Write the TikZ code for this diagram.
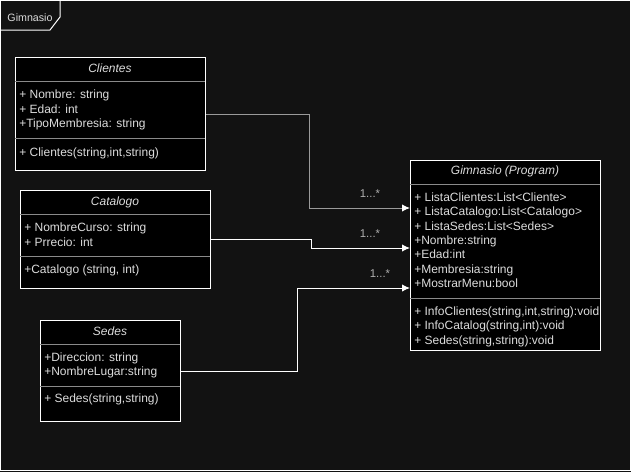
\documentclass[tikz,border=0pt]{standalone}
\usepackage{fontspec}
\setmainfont{Liberation Sans}
\usetikzlibrary{arrows.meta,calc}
\definecolor{bg}{HTML}{121212}
\definecolor{txt}{HTML}{DCDCDC}
\definecolor{sepc}{HTML}{8A8A8A}
\definecolor{conn}{HTML}{9A9A9A}
\definecolor{lbl}{HTML}{B0B0B0}
\tikzset{
  umlbox/.style={draw=white, fill=black, line width=0.75pt, inner sep=0pt, anchor=north west},
  sepline/.style={draw=sepc, line width=0.75pt},
  ttl/.style={font=\fontsize{9}{10}\selectfont\itshape, text=txt, inner sep=0pt, text height=6.5pt, text depth=1.9pt},
  attr/.style={font=\fontsize{9}{10}\selectfont, text=txt, inner sep=0pt, anchor=west, text height=6.5pt, text depth=1.9pt},
  mult/.style={font=\fontsize{8.5}{10}\selectfont, text=lbl, inner sep=0pt},
  assoc/.style={line width=0.75pt, -{Latex[length=6pt,width=5.5pt,fill=white,color=white]}},
}
\begin{document}
\begin{tikzpicture}[x=0.75pt,y=-0.75pt]
\fill[bg] (0,0) rectangle (631,472);
\useasboundingbox (0,0) rectangle (631,472);
% frame
\draw[white, line width=0.75pt] (0.5,0.5) rectangle (630.5,470.5);
\draw[white, line width=0.75pt] (0.5,30) -- (50,30) -- (60,17) -- (60,0.5);
\node[font=\fontsize{8}{9}\selectfont, text=txt, inner sep=0pt] (frm) at (30,17.5) {Gimnasio};

% Clientes
\node[umlbox, minimum width=142.5pt, minimum height=84.75pt] (cli) at (15,57) {};
\draw[sepline] (15,81) -- (205,81);
\draw[sepline] (15,138) -- (205,138);
\node[ttl] (cli-t) at (110,69) {Clientes};
\foreach \t [count=\i] in {{+ Nombre: string},{+ Edad: int},{+TipoMembresia: string}}
  \node[attr] (cli-a\i) at (19,95.5+14.5*\i-14.5) {\t};
\node[attr] (cli-m1) at (19,153) {+ Clientes(string,int,string)};

% Catalogo
\node[umlbox, minimum width=142.5pt, minimum height=73.5pt] (cat) at (20,190) {};
\draw[sepline] (20,214) -- (210,214);
\draw[sepline] (20,256) -- (210,256);
\node[ttl] (cat-t) at (115,202) {Catalogo};
\foreach \t [count=\i] in {{+ NombreCurso: string},{+ Prrecio: int}}
  \node[attr] (cat-a\i) at (24,228.5+14.5*\i-14.5) {\t};
\node[attr] (cat-m1) at (24,270.5) {+Catalogo (string, int)};

% Sedes
\node[umlbox, minimum width=105pt, minimum height=75.75pt] (sed) at (40,320) {};
\draw[sepline] (40,344) -- (180,344);
\draw[sepline] (40,386) -- (180,386);
\node[ttl] (sed-t) at (110,332) {Sedes};
\foreach \t [count=\i] in {{+Direccion: string},{+NombreLugar:string}}
  \node[attr] (sed-a\i) at (44,358+14.5*\i-14.5) {\t};
\node[attr] (sed-m1) at (44,399.5) {+ Sedes(string,string)};

% Gimnasio
\node[umlbox, minimum width=142.5pt, minimum height=142.5pt] (gim) at (410,160) {};
\draw[sepline] (410,184) -- (600,184);
\draw[sepline] (410,298) -- (600,298);
\node[ttl] (gim-t) at (505,171) {Gimnasio (Program)};
\foreach \t [count=\i] in {{+ ListaClientes:List<Cliente>},{+ ListaCatalogo:List<Catalogo>},{+ ListaSedes:List<Sedes>},{+Nombre:string},{+Edad:int},{+Membresia:string},{+MostrarMenu:bool}}
  \node[attr] (gim-a\i) at (414,198.5+14.33*\i-14.33) {\t};
\foreach \t [count=\i] in {{+ InfoClientes(string,int,string):void},{+ InfoCatalog(string,int):void},{+ Sedes(string,string):void}}
  \node[attr] (gim-m\i) at (414,312+14.5*\i-14.5) {\t};

% connector end points on Gimnasio
\coordinate (g1) at ($(gim.north west)+(0,48)$);
\coordinate (g2) at ($(gim.north west)+(0,88)$);
\coordinate (g3) at ($(gim.north west)+(0,128)$);

\draw[assoc, draw=conn] (cli.east) -- ++(103,0) |- (g1);
\draw[assoc, draw=white] (cat.east) -- ++(100,0) |- (g2);
\draw[assoc, draw=white] (sed.east) -- ++(116,0) |- (g3);

\node[mult] (m1) at (370,194) {1...*};
\node[mult] (m2) at (370,234) {1...*};
\node[mult] (m3) at (380,274) {1...*};
\end{tikzpicture}
\end{document}
